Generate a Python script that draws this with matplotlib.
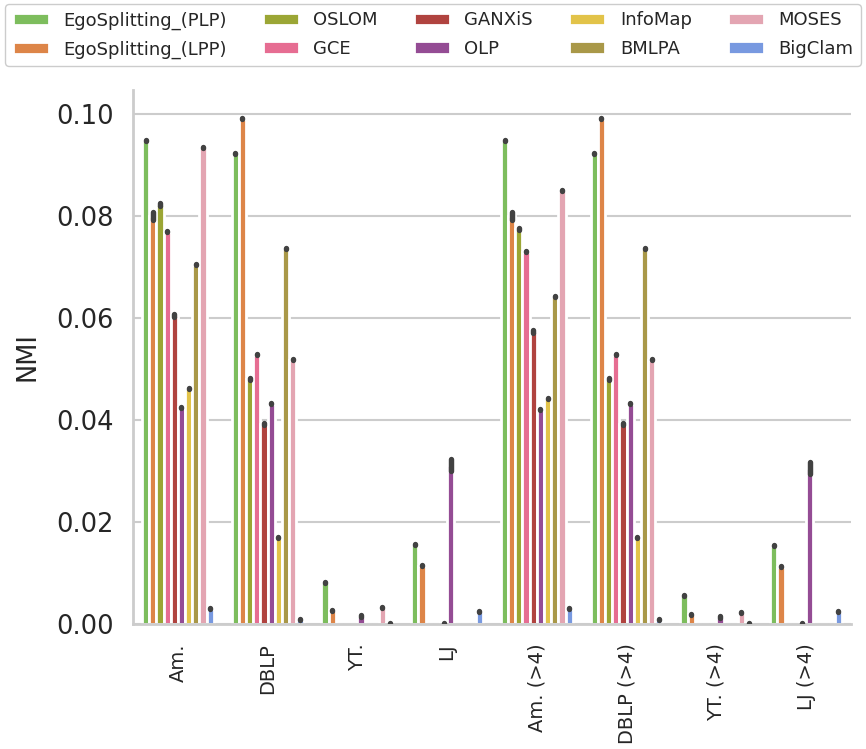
import matplotlib
matplotlib.use('Agg')
import matplotlib.pyplot as plt
import numpy as np
import seaborn as sns

nan = np.nan

datasets = ['Am.', 'DBLP', 'YT.', 'LJ', 'Am. (>4)', 'DBLP (>4)', 'YT. (>4)', 'LJ (>4)']
methods = ['EgoSplitting_(PLP)', 'EgoSplitting_(LPP)', 'OSLOM', 'GCE', 'GANXiS',
           'OLP', 'InfoMap', 'BMLPA', 'MOSES', 'BigClam']
colors = ['#7dbd5d', '#dd8548', '#9ba635', '#e66d92', '#b0433f',
          '#944c94', '#e2c349', '#a99848', '#e3a5b2', '#7899e0']

# NMI per method, one value per dataset (nan = no bar)
nmi_plp = [0.0948, 0.0923, 0.0082, 0.0156, 0.0948, 0.0923, 0.0056, 0.0153]
nmi_lpp = [0.0800, 0.0991, 0.0027, 0.0114, 0.0800, 0.0991, 0.0019, 0.0112]
nmi_oslom = [0.0823, 0.0481, nan, nan, 0.0775, 0.0481, nan, nan]
nmi_gce = [0.0769, 0.0528, nan, nan, 0.0730, 0.0528, nan, nan]
nmi_ganxis = [0.0605, 0.0392, nan, 0.0001, 0.0574, 0.0392, nan, 0.0001]
nmi_olp = [0.0425, 0.0432, 0.0016, 0.0311, 0.0420, 0.0432, 0.0014, 0.0306]
nmi_infomap = [0.0462, 0.0169, nan, nan, 0.0443, 0.0169, nan, nan]
nmi_bmlpa = [0.0704, 0.0737, nan, nan, 0.0643, 0.0737, nan, nan]
nmi_moses = [0.0935, 0.0518, 0.0033, nan, 0.0850, 0.0518, 0.0023, nan]
nmi_bigclam = [0.0030, 0.0008, 0.0001, 0.0025, 0.0030, 0.0008, 0.0001, 0.0025]

# error half-widths
err_plp = [0.0001, 0.0001, 0.0001, 0.0001, 0.0001, 0.0001, 0.0001, 0.0001]
err_lpp = [0.0007, 0.0001, 0.0001, 0.0001, 0.0007, 0.0001, 0.0001, 0.0001]
err_oslom = [0.0003, 0.0002, nan, nan, 0.0002, 0.0002, nan, nan]
err_gce = [0.0001, 0.0001, nan, nan, 0.0001, 0.0001, nan, nan]
err_ganxis = [0.0003, 0.0002, nan, 0.0001, 0.0003, 0.0002, nan, 0.0001]
err_olp = [0.0001, 0.0001, 0.0002, 0.0012, 0.0001, 0.0001, 0.0002, 0.0012]
err_infomap = [0.0001, 0.0001, nan, nan, 0.0001, 0.0001, nan, nan]
err_bmlpa = [0.0001, 0.0001, nan, nan, 0.0001, 0.0001, nan, nan]
err_moses = [0.0001, 0.0001, 0.0001, nan, 0.0001, 0.0001, 0.0001, nan]
err_bigclam = [0.0001, 0.0001, 0.0001, 0.0001, 0.0001, 0.0001, 0.0001, 0.0001]

values = [nmi_plp, nmi_lpp, nmi_oslom, nmi_gce, nmi_ganxis,
          nmi_olp, nmi_infomap, nmi_bmlpa, nmi_moses, nmi_bigclam]
errors = [err_plp, err_lpp, err_oslom, err_gce, err_ganxis,
          err_olp, err_infomap, err_bmlpa, err_moses, err_bigclam]

sns.set_style('whitegrid')
plt.rcParams['font.family'] = ['DejaVu Sans']

fig = plt.figure(figsize=(8.66, 7.49), dpi=100)
ax = fig.add_axes([0.1536, 0.1669, 0.829, 0.713])

n = len(methods)
w = 0.8 / n
x = np.arange(len(datasets))
for j, (m, c) in enumerate(zip(methods, colors)):
    pos = x + (j - (n - 1) / 2) * w
    v = np.array(values[j], dtype=float)
    e = np.array(errors[j], dtype=float)
    ax.bar(pos, np.nan_to_num(v), width=w, color=c, edgecolor='white',
           linewidth=2.0, label=m, zorder=2)
    for p, vi, ei in zip(pos, v, e):
        if np.isnan(vi):
            continue
        ax.plot([p, p], [vi - ei, vi + ei], color='#424242', lw=3.9,
                solid_capstyle='round', zorder=3)

ax.set_xlim(-0.5, len(datasets) - 0.5)
ax.set_ylim(0, 0.1047)
ax.set_yticks([0.0, 0.02, 0.04, 0.06, 0.08, 0.10])
ax.set_yticklabels(['0.00', '0.02', '0.04', '0.06', '0.08', '0.10'])
ax.set_xticks(x)
ax.set_xticklabels(datasets, rotation=90)
ax.tick_params(axis='x', labelsize=14, pad=14, length=0, colors='#262626')
ax.tick_params(axis='y', labelsize=18.5, pad=14, length=0, colors='#262626')
ax.set_ylabel('NMI', fontsize=18.5, labelpad=11, color='#262626')

ax.grid(axis='x', visible=False)
ax.grid(axis='y', color='#cccccc', lw=1.5)
ax.set_axisbelow(True)
for s in ['top', 'right']:
    ax.spines[s].set_visible(False)
for s in ['left', 'bottom']:
    ax.spines[s].set_color('#cccccc')
    ax.spines[s].set_linewidth(2.0)

fig.legend(loc='upper center', bbox_to_anchor=(0.5, 0.997), ncol=5,
           fontsize=13, frameon=True, edgecolor='#cccccc', framealpha=1,
           columnspacing=2.0, handlelength=2.0, labelspacing=0.6,
           borderaxespad=0.1)

fig.savefig('out.png', dpi=100)
